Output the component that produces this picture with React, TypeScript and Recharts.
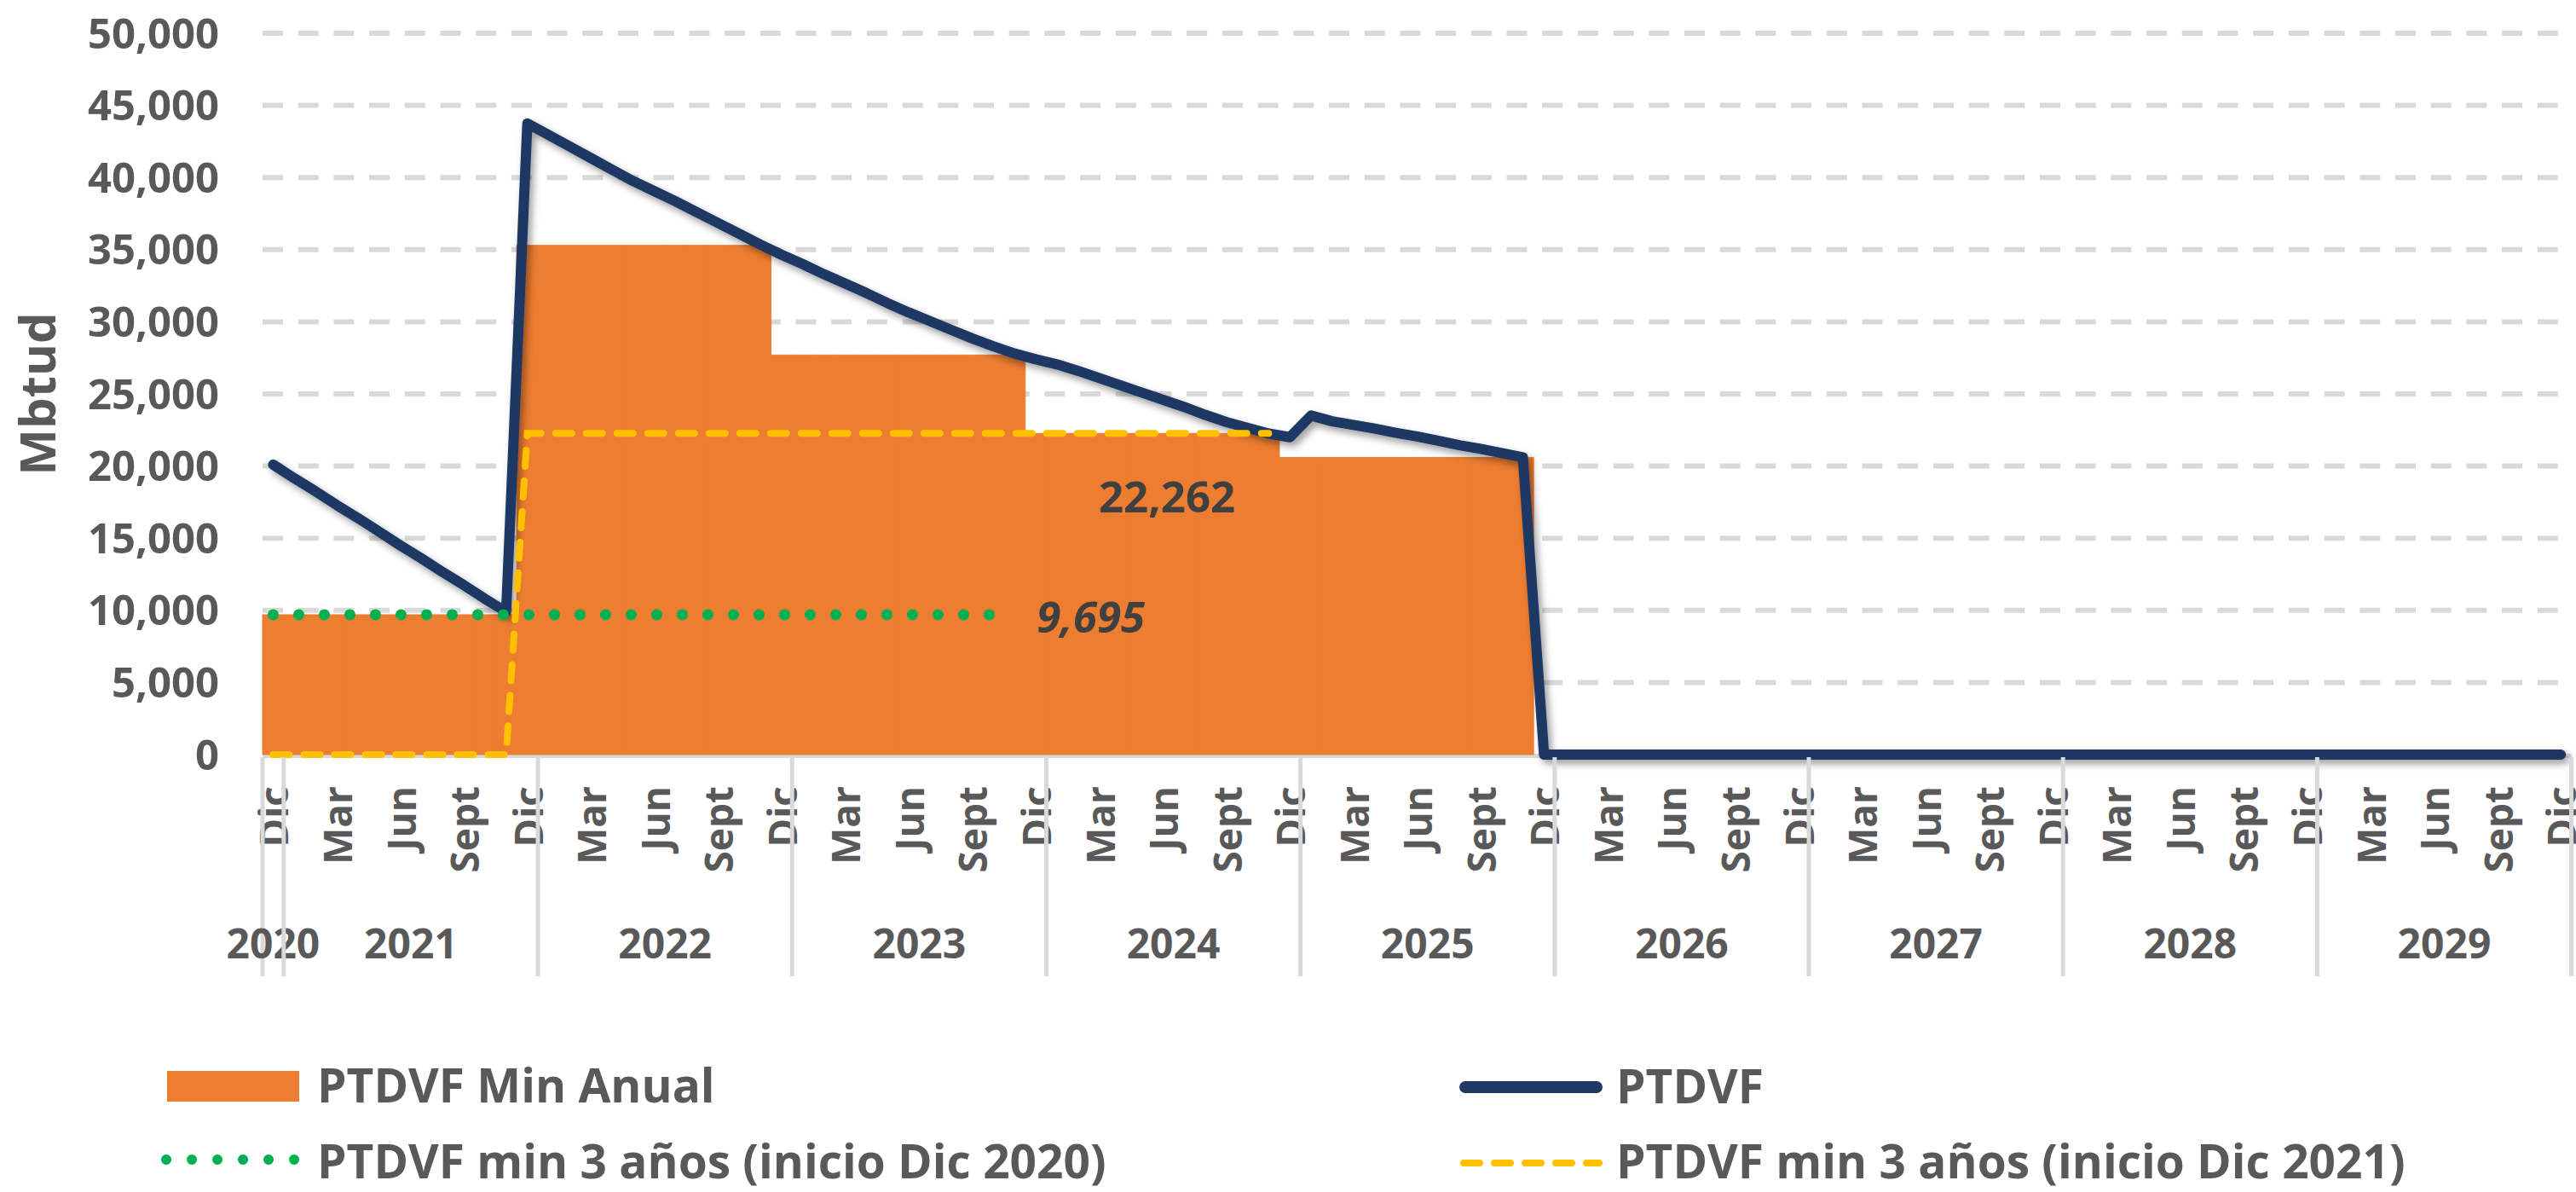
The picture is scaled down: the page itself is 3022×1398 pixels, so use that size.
import React from 'react';
import { ComposedChart, Bar, Line, XAxis, YAxis, CartesianGrid, Legend, LabelList } from 'recharts';

// ---------- data ----------
const monthNames = ['Ene', 'Feb', 'Mar', 'Abr', 'May', 'Jun', 'Jul', 'Ago', 'Sept', 'Oct', 'Nov', 'Dic'];
const yearLabels = ['2020', '2021', '2022', '2023', '2024', '2025', '2026', '2027', '2028', '2029'];
const yTicks = [0, 5000, 10000, 15000, 20000, 25000, 30000, 35000, 40000, 45000, 50000];

// PTDVF, monthly from Dic 2020 to Dic 2029 (Mbtud)
const ptdvf = [
  20100, 19150, 18250, 17300, 16400, 15450, 14500, 13600, 12650, 11750, 10800, 9900,
  43750, 42950, 42150, 41350, 40550, 39750, 39050, 38350, 37600, 36850, 36100, 35350,
  34650, 34000, 33300, 32650, 32000, 31300, 30650, 30050, 29450, 28850, 28300, 27800,
  27400, 27050, 26600, 26100, 25600, 25100, 24600, 24100, 23550, 23050, 22650, 22250,
  22000, 23500, 23100, 22850, 22600, 22300, 22050, 21750, 21450, 21200, 20900, 20600,
  0, 0, 0, 0, 0, 0, 0, 0, 0, 0, 0, 0,
  0, 0, 0, 0, 0, 0, 0, 0, 0, 0, 0, 0,
  0, 0, 0, 0, 0, 0, 0, 0, 0, 0, 0, 0,
  0, 0, 0, 0, 0, 0, 0, 0, 0, 0, 0, 0,
  0,
];

// PTDVF Min Anual, one value per contract year (Dic - Nov)
const minAnual = [9695, 35300, 27700, 22262, 20600, 0, 0, 0, 0, 0];
// PTDVF min 3 años (inicio Dic 2020), per contract year
const min3Inicio2020 = [9695, 9695, 9695];
// PTDVF min 3 años (inicio Dic 2021), per contract year
const min3Inicio2021 = [0, 22262, 22262, 22262];

const table = ptdvf.map((v, i) => {
  const m = (11 + i) % 12;
  const yr = 2020 + Math.floor((11 + i) / 12);
  const period = Math.floor(i / 12);
  return {
    cat: `${monthNames[m]} ${yr}`,
    month: monthNames[m],
    ptdvf: v,
    minAnual: minAnual[period],
    min3a: period < min3Inicio2020.length ? min3Inicio2020[period] : null,
    min3b: period < min3Inicio2021.length ? min3Inicio2021[period] : null,
  };
});

// ---------- style ----------
const W = 3022;
const H = 1398;
const PLOT_LEFT = 308;
const PLOT_RIGHT = 3016.6;
const PLOT_TOP = 39;
const PLOT_BOTTOM = 885;
const BAND = (PLOT_RIGHT - PLOT_LEFT) / table.length;
const FONT = "'Open Sans', 'DejaVu Sans', sans-serif";
const GRAY_TXT = '#595959';
const DARK_TXT = '#404040';
const ORANGE = '#ED7D31';
const NAVY = '#1F3864';
const GREEN = '#00B050';
const YELLOW = '#FFC000';
const GRID = '#D9D9D9';
const LEGEND_TOP = 1228;
const LEGEND_H = 170;

const fmt = (v: number) => v.toLocaleString('en-US');

const YTick = (props: any) => {
  const { y, payload } = props;
  return (
    <text x={257} y={y} dy="0.36em" textAnchor="end" fontFamily={FONT} fontWeight={700} fontSize={49} fill={GRAY_TXT}>
      {fmt(payload.value)}
    </text>
  );
};

const XTick = (props: any) => {
  const { x, payload } = props;
  const i: number = payload.index ?? props.index;
  const els: any[] = [];
  const monthTop = 922;
  if (i % 3 === 0) {
    els.push(
      <text
        key="m"
        x={x}
        y={monthTop}
        transform={`rotate(-90 ${x} ${monthTop})`}
        textAnchor="end"
        dominantBaseline="central"
        fontFamily={FONT}
        fontWeight={700}
        fontSize={46}
        fill={GRAY_TXT}
      >
        {table[i].month}
      </text>
    );
  }
  const sepTop = PLOT_BOTTOM + 3;
  const sepBottom = 1145;
  if (i === 0 || (i - 1) % 12 === 0) {
    els.push(<line key="s" x1={x - BAND / 2} x2={x - BAND / 2} y1={sepTop} y2={sepBottom} stroke={GRID} strokeWidth={5} />);
  }
  if (i === table.length - 1) {
    els.push(<line key="e" x1={x + BAND / 2} x2={x + BAND / 2} y1={sepTop} y2={sepBottom} stroke={GRID} strokeWidth={5} />);
  }
  let yearText: string | null = null;
  let yx = x;
  if (i === 0) {
    yearText = yearLabels[0];
  } else if (i % 12 === 6) {
    yearText = yearLabels[1 + (i - 6) / 12];
    yx = x + BAND / 2;
  }
  if (yearText) {
    els.push(
      <text key="y" x={yx} y={1107} dy="0.36em" textAnchor="middle" fontFamily={FONT} fontWeight={700} fontSize={48} fill={GRAY_TXT}>
        {yearText}
      </text>
    );
  }
  return <g>{els}</g>;
};

// horizontal grid: dashed lines, solid light-gray baseline at 0 (drawn beneath the series)
const GridLine = (p: any) => {
  const isBase = Math.abs(p.y1 - PLOT_BOTTOM) < 1;
  if (isBase) {
    return <line x1={p.x1} x2={p.x2} y1={p.y1 + 1.5} y2={p.y2 + 1.5} stroke={GRID} strokeWidth={5} />;
  }
  return <line x1={p.x1} x2={p.x2} y1={p.y1} y2={p.y2} stroke={GRID} strokeWidth={6} strokeDasharray="24 17.7" />;
};

const MbtudLabel = (props: any) => {
  const vb = props.viewBox || {};
  const cy = (vb.y ?? PLOT_TOP) + (vb.height ?? PLOT_BOTTOM - PLOT_TOP) / 2;
  const cx = 42;
  return (
    <text x={cx} y={cy} transform={`rotate(-90 ${cx} ${cy})`} textAnchor="middle" dominantBaseline="central" fontFamily={FONT} fontWeight={700} fontSize={58} fill={GRAY_TXT}>
      Mbtud
    </text>
  );
};

const pos = (p: any) => {
  const x = p.x ?? p.viewBox?.x;
  const y = p.y ?? p.viewBox?.y;
  return { x, y };
};

const YellowLabel = (p: any) => {
  if (p.index !== 42) return null;
  const { x, y } = pos(p);
  if (x == null || y == null) return null;
  return (
    <text x={x + 5} y={y + 74} dy="0.36em" textAnchor="middle" fontFamily={FONT} fontWeight={700} fontSize={51} fill={DARK_TXT}>
      {fmt(p.value)}
    </text>
  );
};

const GreenLabel = (p: any) => {
  if (p.index !== 35) return null;
  const { x, y } = pos(p);
  if (x == null || y == null) return null;
  return (
    <text x={x + 26} y={y + 3} dy="0.36em" textAnchor="start" fontFamily={FONT} fontWeight={700} fontStyle="italic" fontSize={51} fill={DARK_TXT}>
      {fmt(p.value)}
    </text>
  );
};

const LegendContent = () => {
  const t = (x: number, y: number, s: string) => (
    <text x={x} y={y} dy="0.36em" fontFamily={FONT} fontWeight={700} fontSize={55} fill={GRAY_TXT}>
      {s}
    </text>
  );
  return (
    <svg width={W} height={LEGEND_H} style={{ display: 'block' }}>
      <defs>
        <filter id="lineShadow" filterUnits="userSpaceOnUse" x={0} y={0} width={W} height={H}>
          <feDropShadow dx={4} dy={5} stdDeviation={4} floodColor="#000000" floodOpacity={0.38} />
        </filter>
      </defs>
      <rect x={196} y={28} width={155} height={36} fill={ORANGE} />
      {t(372, 45, 'PTDVF Min Anual')}
      <line x1={1719} x2={1873} y1={47} y2={47} stroke={NAVY} strokeWidth={14} strokeLinecap="round" />
      {t(1896, 46, 'PTDVF')}
      <line x1={195} x2={346} y1={132} y2={132} stroke={GREEN} strokeWidth={12} strokeLinecap="round" strokeDasharray="0.1 29.9" />
      {t(372, 134, 'PTDVF min 3 años (inicio Dic 2020)')}
      <line x1={1717} x2={1876} y1={136} y2={136} stroke={YELLOW} strokeWidth={8} strokeLinecap="round" strokeDasharray="19 17" />
      {t(1896, 134, 'PTDVF min 3 años (inicio Dic 2021)')}
    </svg>
  );
};

export default function App() {
  return (
    <div style={{ position: 'absolute', left: 0, top: 0, width: W, height: H, background: '#fff' }}>
      <ComposedChart
        width={W}
        height={H}
        data={table}
        margin={{ top: PLOT_TOP, right: W - PLOT_RIGHT, bottom: 0, left: 0 }}
        barCategoryGap={0}
        barGap={0}
      >
        <CartesianGrid vertical={false} horizontal={GridLine} />
        <XAxis
          dataKey="cat"
          interval={0}
          tickLine={false}
          axisLine={false}
          height={H - PLOT_BOTTOM - LEGEND_H}
          tick={<XTick />}
        />
        <YAxis
          domain={[0, 50000]}
          ticks={yTicks}
          interval={0}
          width={PLOT_LEFT}
          axisLine={false}
          tickLine={false}
          tick={<YTick />}
          label={MbtudLabel}
        />
        <Legend content={LegendContent} wrapperStyle={{ left: 0, top: LEGEND_TOP, width: W, height: LEGEND_H }} />
        <Bar
          dataKey="minAnual"
          name="PTDVF Min Anual"
          fill={ORANGE}
          stroke={ORANGE}
          strokeWidth={1}
          isAnimationActive={false}
        />
        <Line
          dataKey="ptdvf"
          name="PTDVF"
          stroke={NAVY}
          strokeWidth={12}
          strokeLinejoin="round"
          strokeLinecap="round"
          filter="url(#lineShadow)"
          dot={false}
          activeDot={false}
          isAnimationActive={false}
        />
        <Line
          dataKey="min3a"
          name="PTDVF min 3 años (inicio Dic 2020)"
          stroke={GREEN}
          strokeWidth={13}
          strokeLinecap="round"
          strokeDasharray="0.1 29.9"
          dot={false}
          activeDot={false}
          isAnimationActive={false}
        >
          <LabelList dataKey="min3a" content={GreenLabel} />
        </Line>
        <Line
          dataKey="min3b"
          name="PTDVF min 3 años (inicio Dic 2021)"
          stroke={YELLOW}
          strokeWidth={8}
          strokeLinecap="round"
          strokeDasharray="19 17"
          dot={false}
          activeDot={false}
          isAnimationActive={false}
        >
          <LabelList dataKey="min3b" content={YellowLabel} />
        </Line>
      </ComposedChart>
    </div>
  );
}
